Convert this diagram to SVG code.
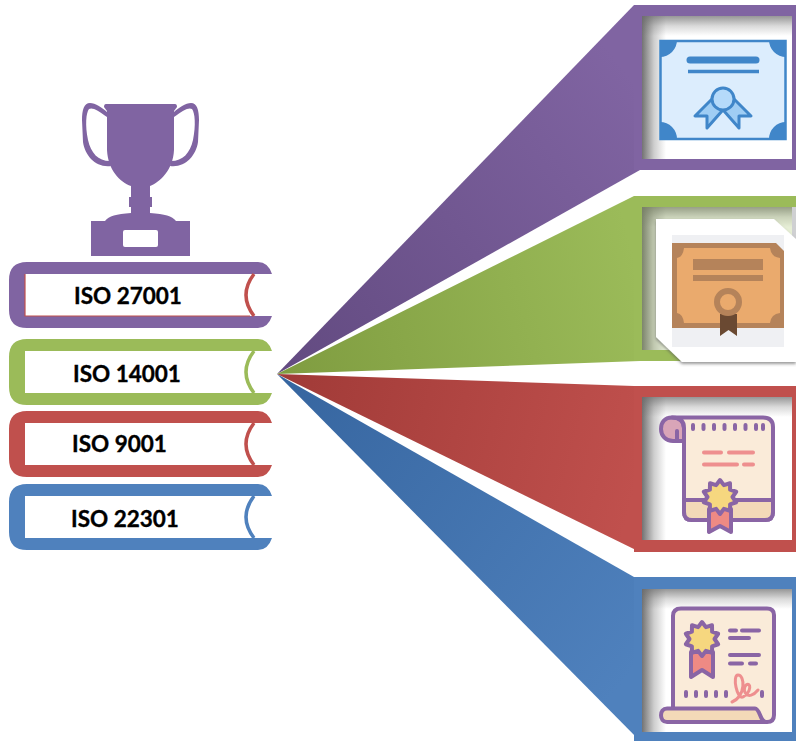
<svg xmlns="http://www.w3.org/2000/svg" width="796" height="742" viewBox="0 0 796 742">
<style>
.lbl{font-family:"Lato","Liberation Sans",sans-serif;font-weight:700;font-size:22.5px;fill:#000;stroke:#000;stroke-width:.35}
.curve{fill:none;stroke-width:3.5}
.pur{fill:#8064a2}.grn{fill:#9bbb59}.red{fill:#c0504d}.blu{fill:#4f81bd}
.ln{stroke-linecap:round;fill:none}
.ip{stroke:#8a65a5;stroke-width:4;stroke-linejoin:round}
</style>
<defs>
<path id="book" d="M27,0H258Q268,0 272,12H25V54H272Q268,66 258,66H27Q9,66 9,48V18Q9,0 27,0Z"/>
<path id="spine" d="M254,12Q238,33 254,54" class="curve"/>
<linearGradient id="gP" gradientUnits="userSpaceOnUse" x1="277" y1="374" x2="640" y2="90"><stop offset="0" stop-color="#624a80"/><stop offset="1" stop-color="#8064a2"/></linearGradient>
<linearGradient id="gG" gradientUnits="userSpaceOnUse" x1="277" y1="374" x2="640" y2="280"><stop offset="0" stop-color="#7f9c40"/><stop offset="1" stop-color="#9bbb59"/></linearGradient>
<linearGradient id="gR" gradientUnits="userSpaceOnUse" x1="277" y1="374" x2="640" y2="470"><stop offset="0" stop-color="#a03a37"/><stop offset="1" stop-color="#c0504d"/></linearGradient>
<linearGradient id="gB" gradientUnits="userSpaceOnUse" x1="277" y1="374" x2="640" y2="660"><stop offset="0" stop-color="#36659f"/><stop offset="1" stop-color="#4f81bd"/></linearGradient>
<linearGradient id="sL" x1="0" y1="0" x2="1" y2="0"><stop offset="0" stop-color="#5a5a5a" stop-opacity=".85"/><stop offset=".5" stop-color="#5a5a5a" stop-opacity=".3"/><stop offset="1" stop-color="#5a5a5a" stop-opacity="0"/></linearGradient>
<linearGradient id="sT" x1="0" y1="0" x2="0" y2="1"><stop offset="0" stop-color="#6a6a6a" stop-opacity=".7"/><stop offset=".5" stop-color="#6a6a6a" stop-opacity=".25"/><stop offset="1" stop-color="#6a6a6a" stop-opacity="0"/></linearGradient>
<filter id="soft" x="-5%" y="-5%" width="110%" height="110%"><feGaussianBlur stdDeviation="0.6"/></filter>
<filter id="cardShadow" x="-10%" y="-10%" width="120%" height="120%"><feDropShadow dx="0" dy="2" stdDeviation="1.5" flood-color="#555" flood-opacity=".6"/></filter>
<g id="shade">
<rect width="150" height="143" fill="#fff"/>
<rect width="24" height="143" fill="url(#sL)"/>
<rect width="150" height="20" fill="url(#sT)"/>
</g>
<polygon id="star" points="0,-17 3.86,-11.89 10,-13.75 10.11,-7.35 16.17,-5.25 12.5,0 16.17,5.25 10.11,7.35 10,13.75 3.86,11.89 0,17 -3.86,11.89 -10,13.75 -10.11,7.35 -16.17,5.25 -12.5,0 -16.17,-5.25 -10.11,-7.35 -10,-13.75 -3.86,-11.89"/>
</defs>
<rect width="796" height="742" fill="#fff"/>

<g id="connectors">
<polygon points="277,374 634,5 640,170" fill="url(#gP)"/>
<polygon points="277,374 634,196 640,361" fill="url(#gG)"/>
<polygon points="277,374 634,386 640,552" fill="url(#gR)"/>
<polygon points="277,374 634,577 640,741" fill="url(#gB)"/>
</g>

<g id="trophy" class="pur">
<path d="M82,120C82,110 84,103 90,103C95,103 103,108 107,112V117C98,110 92,107 89,109C86,113 85,125 88,140C91,153 98,161 110,161L111,166C96,168 85,156 83,142Z"/>
<path d="M199,120C199,110 197,103 191,103C186,103 178,108 174,112V117C183,110 189,107 192,109C195,113 196,125 193,140C190,153 183,161 171,161L170,166C185,168 196,156 198,142Z"/>
<path d="M106,104H175Q177,104 177,107L174,111V150C173,170 160,182 150,186V197H152V207H150V213C165,214 172,216 176,221H190V256H91V221H105C109,216 116,214 131,213V207H129V197H131V186C120,182 108,170 107,150V111L104,107Q104,104 106,104Z"/>
<rect x="123" y="230" width="35" height="17" rx="2" fill="#fff"/>
</g>

<g id="book-iso-27001">
<use href="#book" y="262" class="pur"/>
<path d="M25,274V316H250" fill="none" stroke="#c0504d" stroke-width="1.2"/>
<use href="#spine" y="262" stroke="#c0504d"/>
<text class="lbl" x="74" y="304">ISO 27001</text>
</g>
<g id="book-iso-14001">
<use href="#book" y="339" class="grn"/>
<use href="#spine" y="339" stroke="#9bbb59"/>
<text class="lbl" x="73" y="382">ISO 14001</text>
</g>
<g id="book-iso-9001">
<use href="#book" y="411" class="red"/>
<use href="#spine" y="411" stroke="#c0504d"/>
<text class="lbl" x="72" y="452">ISO 9001</text>
</g>
<g id="book-iso-22301">
<use href="#book" y="484" class="blu"/>
<use href="#spine" y="484" stroke="#4f81bd"/>
<text class="lbl" x="71" y="527">ISO 22301</text>
</g>

<g id="panel-purple">
<rect x="634" y="5" width="162" height="165" class="pur"/>
<use href="#shade" x="642" y="16"/>
<g filter="url(#soft)">
<rect x="660.5" y="41" width="125" height="98" fill="#dcedfd" stroke="#3f86c9" stroke-width="2.5"/>
<path d="M660,40h17a17,17 0 0 1 -17,17zM786,40h-17a17,17 0 0 0 17,17zM660,139h17a17,17 0 0 0 -17,-17zM786,139h-17a17,17 0 0 1 17,-17z" fill="#3f86c9"/>
<path d="M690,60H756" stroke="#3f86c9" stroke-width="7" class="ln"/>
<path d="M688,71.5H759" stroke="#3f86c9" stroke-width="3.5"/>
<path d="M712,99L695,116L707,116V128L722,111Z" fill="#9fcdf4" stroke="#3f86c9" stroke-width="3" stroke-linejoin="round"/>
<path d="M734,99L751,116L739,116V128L724,111Z" fill="#9fcdf4" stroke="#3f86c9" stroke-width="3" stroke-linejoin="round"/>
<circle cx="723" cy="99" r="11" fill="#b5dafa" stroke="#3f86c9" stroke-width="3"/>
</g>
</g>

<g id="panel-green">
<rect x="634" y="196" width="162" height="165" class="grn"/>
<use href="#shade" x="642" y="207" opacity=".75"/>
<rect x="792" y="207" width="4" height="40" fill="#cfd0d2"/>
<polygon points="656,219 774,219 796,239 796,362 682,362 656,337" fill="#fff" filter="url(#cardShadow)"/>
<g filter="url(#soft)">
<rect x="672" y="235" width="112" height="112" fill="#eff0f3"/>
<path d="M672,243H776L784,251V328H672Z" fill="#b5835a"/>
<path d="M684,248H770Q771,257 780,258V313Q771,314 770,323H684Q683,314 677,313V258Q683,257 684,248Z" fill="#eaaa6d"/>
<rect x="693" y="259" width="70" height="11" fill="#b5835a"/>
<rect x="693" y="275" width="70" height="6" fill="#b5835a"/>
<path d="M720,314H737V336L728.500,330L720,336Z" fill="#6b4a30"/>
<circle cx="728" cy="302" r="11" fill="#eaaa6d" stroke="#b5835a" stroke-width="6"/>
</g>
</g>

<g id="panel-red">
<rect x="634" y="386" width="162" height="166" class="red"/>
<use href="#shade" x="642" y="397"/>
<g filter="url(#soft)">
<path d="M672,417.500C664,417.500 661,423 661,429C661,436 666,441 673,441H684V428C684,421 680,417.500 672,417.500Z" fill="#d9a5b8" class="ip"/>
<path d="M672,417.500H763Q773,417.500 773,427V512Q773,520 765,520H692Q684,520 684,512V428C684,421 680,417.500 672,417.500Z" fill="#faebd9" class="ip"/>
<path d="M684,500H773V512Q773,520 765,520H692Q684,520 684,512Z" fill="#f3d9b8" class="ip"/>
<path d="M677,440V431" class="ip ln"/>
<path d="M693,425v4M703.500,425v4M714,425v4M724.500,425v4M735,425v4M745.500,425v4M756,425v4M763,425v4" class="ln ip"/>
<path d="M704,452.500H721M729,452.500H753M704,464.500H737M744,464.500H753" stroke="#ee8f8f" stroke-width="4" class="ln"/>
<path d="M709,509H731V532L720,526L709,532Z" fill="#ee8a84" class="ip"/>
<use href="#star" x="720" y="497" fill="#f6d77f" class="ip"/>
</g>
</g>

<g id="panel-blue">
<rect x="634" y="577" width="162" height="164" class="blu"/>
<use href="#shade" x="642" y="589"/>
<g filter="url(#soft)">
<path d="M681,608.500H767Q774,608.500 774,615V715Q774,722 767,722H673V616Q673,608.500 681,608.500Z" fill="#faebd9" class="ip"/>
<path d="M691,652H713V677L702,670L691,677Z" fill="#ee8a84" class="ip"/>
<use href="#star" x="702" y="639" fill="#f6d77f" class="ip"/>
<path d="M730,630.500H736M742,630.500H759M730,638H749M730,655H759M730,663.500H742M750,663.500H756" class="ln ip"/>
<path d="M686,692v4M696,692v4M706,692v4M716,692v4M726,692v4M762,692v4" class="ln ip"/>
<path d="M732,702C746,696 745,675 738,675C732,675 737,700 743,697C752,691 751,682 746,685C741,691 748,702 758,690" fill="none" stroke="#ee8f8f" stroke-width="3" stroke-linecap="round"/>
<path d="M667,708.500H755C760,708.500 760,722 766,722H667C659,722 659,708.500 667,708.500Z" fill="#f3d9b8" class="ip"/>
</g>
</g>
</svg>
